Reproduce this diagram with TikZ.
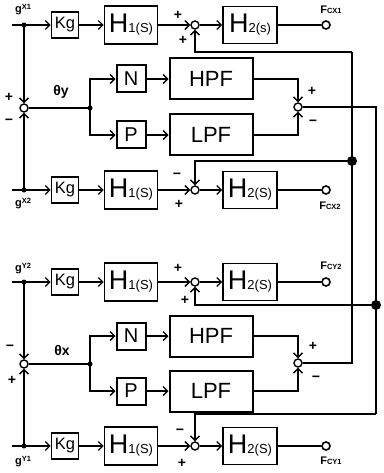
\documentclass[tikz,border=0pt]{standalone}
\usepackage{fontspec}
\setmainfont{Liberation Sans}
\usetikzlibrary{arrows.meta}
\newcommand\Hblk[2]{{\fontsize{27}{27}\selectfont H}{\fontsize{13}{13}\selectfont #1(#2)}}
\newcommand\glab[1]{g{\fontsize{7.5}{7.5}\selectfont\raisebox{3pt}{#1}}}
\newcommand\flab[1]{F{\fontsize{7.5}{7.5}\selectfont #1}}
\begin{document}
\begin{tikzpicture}[x=1pt,y=-1pt,
  line width=1.3pt,
  >={Straight Barb[length=4.5pt,width=9pt,line width=1.3pt]},
  blk/.style={draw,line width=1.6pt,inner sep=0pt},
  kg/.style={blk,minimum width=27pt,minimum height=26pt,font=\fontsize{16.5}{16.5}\selectfont},
  hone/.style={blk,minimum width=53pt,minimum height=38pt},
  htwo/.style={blk,minimum width=54pt,minimum height=37pt},
  np/.style={blk,line width=2pt,minimum width=29pt,minimum height=27pt,font=\fontsize{20}{20}\selectfont},
  filt/.style={blk,line width=2pt,minimum width=83pt,minimum height=41pt,font=\fontsize{22}{22}\selectfont},
  sum/.style={circle,draw,line width=1.4pt,minimum size=8pt,inner sep=0pt},
  term/.style={circle,draw,line width=1.6pt,minimum size=8pt,inner sep=0pt},
  jdot/.style={circle,fill,minimum size=5pt,inner sep=0pt},
  bigdot/.style={circle,fill,minimum size=10pt,inner sep=0pt},
  sgn/.style={font=\bfseries\fontsize{14}{14}\selectfont,inner sep=0pt},
  lab/.style={font=\bfseries\fontsize{11}{11}\selectfont,inner sep=0pt},
  th/.style={font=\bfseries\fontsize{14}{14}\selectfont,inner sep=0pt},
]
\useasboundingbox (0,0) rectangle (383,473);

% ===== X section =====
% row gX1
\coordinate (in1) at (12,25);
\node[jdot] (j1) at (24,25) {};
\node[kg] (kg1) at (65,25) {Kg};
\node[hone] (h1a) at (131,25) {\Hblk{1}{S}};
\node[sum] (s1) at (195,25) {};
\node[htwo] (h2a) at (250,25) {\Hblk{2}{s}};
\node[term] (o1) at (326,25) {};
\node[lab] (lg1) at (23,10) {\glab{X1}};
\node[lab] (lf1) at (331,10) {\flab{CX1}};
\node[sgn] (p1a) at (178,15) {+};
\node[sgn] (p1b) at (183,40) {+};

% theta y loop
\node[sum] (sa) at (24,108) {};
\node[sgn] (pa) at (9,97) {+};
\node[sgn] (ma) at (9,122) {−};
\node[th] (thy) at (61,92) {θy};
\node[jdot] (da) at (90,108) {};
\node[np] (n1) at (131,79) {N};
\node[filt] (hpf1) at (211,79) {HPF};
\node[np] (pp1) at (131,135) {P};
\node[filt] (lpf1) at (211,135) {LPF};
\node[sum] (sb) at (298,107) {};
\node[sgn] (pb) at (312,91) {+};
\node[sgn] (mb) at (313,123) {−};

% row gX2
\coordinate (in2) at (12,190);
\node[jdot] (j2) at (24,190) {};
\node[kg] (kg2) at (65,190) {Kg};
\node[hone] (h1b) at (131,190) {\Hblk{1}{S}};
\node[sum] (s2) at (195,190) {};
\node[htwo] (h2b) at (250,190) {\Hblk{2}{S}};
\node[term] (o2) at (326,190) {};
\node[lab] (lg2) at (23,204) {\glab{X2}};
\node[lab] (lf2) at (330,206) {\flab{CX2}};
\node[sgn] (m2a) at (177,176) {−};
\node[sgn] (p2b) at (179,204) {+};

% ===== Y section =====
% row gY2
\coordinate (in3) at (12,282);
\node[jdot] (j3) at (24,282) {};
\node[kg] (kg3) at (65,282) {Kg};
\node[hone] (h1c) at (131,282) {\Hblk{1}{S}};
\node[sum] (s3) at (195,282) {};
\node[htwo] (h2c) at (250,282) {\Hblk{2}{S}};
\node[term] (o3) at (326,282) {};
\node[lab] (lg3) at (23,269) {\glab{Y2}};
\node[lab] (lf3) at (331,266) {\flab{CY2}};
\node[sgn] (p3a) at (178,268) {+};
\node[sgn] (p3b) at (185,300) {+};

% theta x loop
\node[sum] (sc) at (24,364) {};
\node[sgn] (mc) at (10,348) {−};
\node[sgn] (pc) at (12,380) {+};
\node[th] (thx) at (62,350) {θx};
\node[jdot] (dc) at (90,364) {};
\node[np] (n2) at (131,336) {N};
\node[filt] (hpf2) at (211,336) {HPF};
\node[np] (pp2) at (131,391) {P};
\node[filt] (lpf2) at (211,391) {LPF};
\node[sum] (sd) at (298,363) {};
\node[sgn] (pd) at (313,346) {+};
\node[sgn] (md) at (316,379) {−};

% row gY1
\coordinate (in4) at (12,446);
\node[jdot] (j4) at (24,446) {};
\node[kg] (kg4) at (65,446) {Kg};
\node[hone] (h1d) at (131,446) {\Hblk{1}{S}};
\node[sum] (s4) at (195,446) {};
\node[htwo] (h2d) at (250,446) {\Hblk{2}{S}};
\node[term] (o4) at (326,446) {};
\node[lab] (lg4) at (23,462) {\glab{Y1}};
\node[lab] (lf4) at (331,461) {\flab{CY1}};
\node[sgn] (m4a) at (180,432) {−};
\node[sgn] (p4b) at (182,463) {+};

% right-hand crossing lines
\coordinate (c1) at (352,52);
\node[bigdot] (d1) at (352,161) {};
\coordinate (c2) at (352,363);
\coordinate (c4) at (376,107);
\node[bigdot] (d2) at (376,305) {};
\coordinate (c5) at (376,414);

% ===== connectors =====
\foreach \i/\k/\ha/\s/\hb/\o/\j in {in1/kg1/h1a/s1/h2a/o1/j1, in2/kg2/h1b/s2/h2b/o2/j2, in3/kg3/h1c/s3/h2c/o3/j3, in4/kg4/h1d/s4/h2d/o4/j4}{
  \draw[->] (\i) -- (\k);
  \draw[->] (\k) -- (\ha);
  \draw[->] (\ha) -- (\s);
  \draw[->] (\s) -- (\hb);
  \draw (\hb) -- (\o);
}
% X loop
\draw[->] (j1.center) -- (sa);
\draw[->] (j2.center) -- (sa);
\draw (sa) -- (da.center);
\draw[->] (da.center) |- (n1);
\draw[->] (da.center) |- (pp1);
\draw[->] (n1) -- (hpf1);
\draw[->] (pp1) -- (lpf1);
\draw[->] (hpf1) -| (sb);
\draw[->] (lpf1) -| (sb);
% Y loop
\draw[->] (j3.center) -- (sc);
\draw[->] (j4.center) -- (sc);
\draw (sc) -- (dc.center);
\draw[->] (dc.center) |- (n2);
\draw[->] (dc.center) |- (pp2);
\draw[->] (n2) -- (hpf2);
\draw[->] (pp2) -- (lpf2);
\draw[->] (hpf2) -| (sd);
\draw[->] (lpf2) -| (sd);
% cross feedback
\draw (sd) -- (c2) -- (c1);
\draw[->] (c1) -| (s1);
\draw[->] (d1.center) -| (s2);
\draw (sb) -- (c4) -- (c5);
\draw[->] (d2.center) -| (s3);
\draw[->] (c5) -| (s4);
\end{tikzpicture}
\end{document}
